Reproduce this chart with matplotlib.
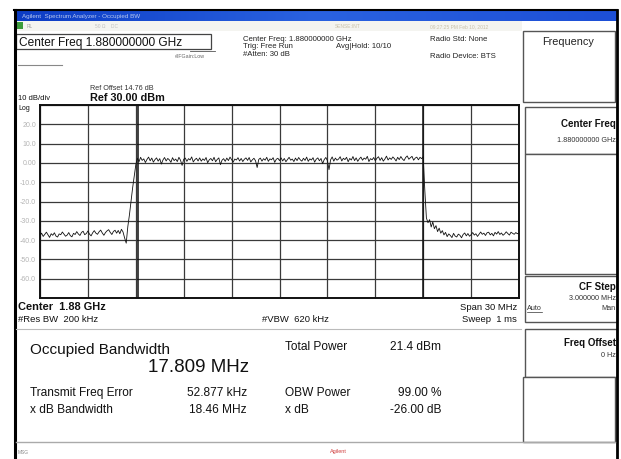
import numpy as np
import matplotlib
matplotlib.use("Agg")
import matplotlib.pyplot as plt
from matplotlib.patches import Rectangle
from matplotlib.lines import Line2D
from matplotlib.colors import LinearSegmentedColormap

plt.rcParams['font.family'] = ['Liberation Sans', 'DejaVu Sans']

# ---------------- data ----------------
center_ghz = 1.88
span_ghz = 0.030
ref_level = 30.0
db_per_div = 10.0
n_points = 301

y_tick_values = [20, 10, 0, -10, -20, -30, -40, -50, -60]
y_tick_labels = ["20.0", "10.0", "0.00", "-10.0", "-20.0", "-30.0", "-40.0", "-50.0", "-60.0"]

noise_left = [
    -37.8, -36.4, -38.1, -37.0, -35.9, -37.3, -38.6, -36.7, -37.5, -36.2,
    -37.9, -38.4, -36.8, -37.2, -35.8, -36.9, -38.0, -37.4, -36.1, -37.7,
    -38.3, -36.5, -37.1, -35.6, -36.8, -37.6, -36.0, -35.4, -37.2, -36.6,
    -35.3, -36.9, -37.8, -36.2, -35.1, -36.4, -37.0, -35.7, -34.8, -36.3,
    -37.5, -36.1, -35.2, -34.6, -36.0, -37.1, -35.5, -34.9, -36.4, -35.0,
    -36.7, -34.4, -35.8, -38.9, -41.6,
]
rising_edge = [-33.0, -27.0, -20.0, -13.0, -7.0, -1.0]
in_band = [
    2.4, 0.6, 2.9, 1.3, 2.1, 0.2, 1.8, 3.0, 1.1, 2.5,
    0.4, 1.7, 2.6, 0.9, 2.2, -0.6, 1.5, 2.8, 1.0, 2.3,
    1.6, 0.3, 2.7, 1.2, 2.0, 0.7, 2.9, 1.4, -1.3, 1.9,
    2.5, 0.8, 2.2, 1.5, 3.1, 0.5, 1.7, 2.4, 1.0, 2.6,
    0.9, 2.1, 1.3, 2.8, 0.1, 1.6, 2.3, 1.1, 2.9, 0.6,
    1.8, 2.6, -0.9, 1.4, 2.2, 0.8, 2.5, 1.2, 3.0, 1.7,
    0.4, 2.0, 1.5, 2.7, 1.0, 2.3, 0.7, 1.9, 2.6, 1.3,
    2.8, 0.5, 1.6, 2.4, 1.1, -2.4, 1.8, 2.5, 0.9, 2.2,
    1.4, 2.9, 0.8, 2.1, 1.6, 2.7, 0.3, 1.9, 2.4, 1.2,
    2.6, 1.0, 2.3, 0.6, 1.8, 2.9, 1.4, 2.0, 0.7, 2.5,
    1.2, 2.8, 1.6, 0.9, 2.4, 1.3, 3.0, 0.8, 2.1, 1.5,
    2.7, 0.4, 1.9, 2.6, 1.1, 2.3, -0.4, 1.7, 2.8, 1.2,
    -3.5, 1.6, 3.1, 0.9, 2.5, 1.4, 2.0, 3.2, 1.0, 2.4,
    1.7, 2.9, 0.6, 2.3, 1.5, 3.3, 1.2, 2.6, 0.8, 2.1,
    3.0, 1.4, 2.5, 1.9, 3.4, 0.7, 2.2, 1.6, 2.8, 1.1,
    2.4, 3.2, 1.3, 2.7, 0.9, 2.0, 3.5, 1.5, 2.6, 1.8,
    3.1, 2.2, 1.0, 2.9, 1.7, 3.3, 2.0, 1.2, 2.8, 3.6,
    1.9, 2.7, 3.4, 1.4, 2.5, 3.0, 1.6, 2.9, 2.2, 3.2,
]
falling_edge = [-14.0, -28.5, -31.0, -29.4, -33.2, -30.6, -34.1, -32.5, -35.6, -33.8]
noise_right = [
    -36.4, -35.1, -37.3, -36.0, -38.2, -36.8, -37.6, -38.7, -36.5, -37.9,
    -38.4, -36.9, -37.5, -38.8, -37.1, -36.3, -37.8, -36.6, -38.0, -37.2,
    -36.1, -37.4, -36.7, -38.1, -36.9, -35.8, -37.0, -36.4, -37.6, -36.2,
    -35.9, -37.3, -36.5, -37.8, -36.0, -36.9, -35.6, -37.1, -36.3, -37.5,
    -36.8, -35.7, -36.6, -37.4, -35.9, -36.5, -37.0, -36.1, -36.7, -36.3,
]
trace_dbm = noise_left + rising_edge + in_band + falling_edge + noise_right

obw_mhz = 17.809
freq_error_khz = 52.877

W, H = 621, 460
fig = plt.figure(figsize=(W / 100, H / 100), dpi=100)
fig.patch.set_facecolor("white")


def fx(x):
    return x / W


def fy(y):
    return 1 - y / H


def rect(x0, y0, x1, y1, **kw):
    r = Rectangle((fx(x0), fy(y1)), (x1 - x0) / W, (y1 - y0) / H,
                  transform=fig.transFigure, **kw)
    fig.add_artist(r)


def line(x0, y0, x1, y1, **kw):
    fig.add_artist(Line2D([fx(x0), fx(x1)], [fy(y0), fy(y1)],
                          transform=fig.transFigure, **kw))


def text(x, y, s, **kw):
    kw.setdefault("va", "center")
    fig.text(fx(x), fy(y), s, **kw)


# ---------------- window chrome ----------------
grad = np.linspace(0, 1, 256).reshape(1, -1)
tb = fig.add_axes([fx(14), fy(22), (617 - 14) / W, 11 / H])
cm = LinearSegmentedColormap.from_list("b", ["#0c3cc4", "#2a62e0", "#1d4fd6"])
tb.imshow(grad, aspect="auto", cmap=cm)
tb.axis("off")
text(22, 16.5, "Agilent  Spectrum Analyzer - Occupied BW", fontsize=4.5, color="#b8c8f0")

rect(16, 22, 522, 32, facecolor="#f4f4f0", edgecolor="none")
rect(17, 23, 23, 30, facecolor="#3c9c3c", edgecolor="none")
text(27, 26.5, "RL", fontsize=3.5, color="#a0a0a0")
text(95, 26.5, "50 Ω    DC", fontsize=3.5, color="#c0c0c0")
text(335, 27, "SENSE:INT", fontsize=3.5, color="#c8c0a8")
text(430, 27, "09:27:25 PM Feb 10, 2012", fontsize=3.5, color="#c8c0a8")

line(15, 11, 15, 460, color="black", lw=2.2)
line(14, 11, 617, 11, color="black", lw=1.5)
line(616.5, 11, 616.5, 460, color="black", lw=2.0)

rect(16, 35, 211, 50, facecolor="white", edgecolor="#444444", lw=0.9)
text(19, 43, "Center Freq 1.880000000 GHz", fontsize=8.6, color="#111111")
text(205, 57, "#IFGain:Low", fontsize=3.8, color="#666666", ha="right")
line(190, 52, 215, 52, color="#555555", lw=0.6)
line(18, 66, 62, 66, color="#888888", lw=0.8)

hdr = dict(fontsize=5.6, color="#222222")
text(243, 40, "Center Freq: 1.880000000 GHz", **hdr)
text(243, 47, "Trig: Free Run", **hdr)
text(243, 54, "#Atten: 30 dB", **hdr)
text(336, 47, "Avg|Hold: 10/10", **hdr)
text(430, 40, "Radio Std: None", **hdr)
text(430, 56, "Radio Device: BTS", **hdr)

text(90, 88, "Ref Offset 14.76 dB", fontsize=5.2, color="#333333")
text(18, 99, "10 dB/div", fontsize=5.5, color="#111111")
text(90, 98, "Ref 30.00 dBm", fontsize=7.8, color="#111111", weight="bold")
text(18, 108.5, "Log", fontsize=5.0, color="#111111")

# ---------------- graticule / trace ----------------
ax = fig.add_axes([fx(40), fy(299), 479 / W, 193 / H])
f_start = center_ghz - span_ghz / 2
f_stop = center_ghz + span_ghz / 2
freqs = np.linspace(f_start, f_stop, n_points)
ax.set_xlim(f_start, f_stop)
ax.set_ylim(ref_level - 10 * db_per_div, ref_level)
ax.set_xticks(np.linspace(f_start, f_stop, 11))
ax.set_yticks(np.arange(ref_level - 10 * db_per_div, ref_level + 1, db_per_div))
ax.grid(True, color="#3a3a3a", lw=0.9)
ax.tick_params(length=0, labelbottom=False, labelleft=False)
for s in ax.spines.values():
    s.set_color("#111111")
    s.set_linewidth(1.4)
ax.plot(freqs, trace_dbm, color="#111111", lw=0.6)
fe = freq_error_khz / 1e6
ax.axvline(center_ghz + fe - obw_mhz / 2000, color="#111111", lw=1.1)
ax.axvline(center_ghz + fe + obw_mhz / 2000, color="#111111", lw=1.1)
for v, lab in zip(y_tick_values, y_tick_labels):
    ax.text(-0.008, v, lab, transform=ax.get_yaxis_transform(), ha="right",
            va="center", fontsize=5.0, color="#b4b4b4")

# ---------------- lower info ----------------
text(18, 307, "Center  1.88 GHz", fontsize=7.9, color="#111111", weight="bold")
text(18, 320, "#Res BW  200 kHz", fontsize=6.8, color="#111111")
text(262, 320, "#VBW  620 kHz", fontsize=6.8, color="#111111")
text(517, 307, "Span 30 MHz", fontsize=6.8, color="#111111", ha="right")
text(517, 320, "Sweep  1 ms", fontsize=6.8, color="#111111", ha="right")

line(16, 330, 521, 330, color="#bbbbbb", lw=0.8)

text(30, 350, "Occupied Bandwidth", fontsize=11, color="#111111")
text(148, 368, f"{obw_mhz:.3f} MHz", fontsize=13.5, color="#111111")
text(285, 347, "Total Power", fontsize=8.6, color="#111111")
text(441, 347, "21.4 dBm", fontsize=8.6, color="#111111", ha="right")
text(30, 393, "Transmit Freq Error", fontsize=8.6, color="#111111")
text(247, 393, f"{freq_error_khz:.3f} kHz", fontsize=8.6, color="#111111", ha="right")
text(285, 393, "OBW Power", fontsize=8.6, color="#111111")
text(441, 393, "99.00 %", fontsize=8.6, color="#111111", ha="right")
text(30, 410, "x dB Bandwidth", fontsize=8.6, color="#111111")
text(247, 410, "18.46 MHz", fontsize=8.6, color="#111111", ha="right")
text(285, 410, "x dB", fontsize=8.6, color="#111111")
text(441, 410, "-26.00 dB", fontsize=8.6, color="#111111", ha="right")

line(16, 443, 615, 443, color="#aaaaaa", lw=1.0)
text(18, 453, "MSG", fontsize=3.5, color="#888888")
text(330, 452, "Agilent", fontsize=4.0, color="#d04040")

# ---------------- softkey panel ----------------
sk = dict(facecolor="white", edgecolor="#555555", lw=1.0)
rect(523, 32, 615, 103, **sk)
text(568, 42, "Frequency", fontsize=7.8, color="#222222", ha="center")
rect(525, 108, 617, 155, **sk)
text(616, 124, "Center Freq", fontsize=7.0, color="#111111", ha="right", weight="bold")
text(616, 140, "1.880000000 GHz", fontsize=5.2, color="#333333", ha="right")
rect(525, 155, 617, 275, **sk)
rect(525, 277, 617, 323, **sk)
text(616, 287, "CF Step", fontsize=7.0, color="#111111", ha="right", weight="bold")
text(616, 298, "3.000000 MHz", fontsize=5.2, color="#333333", ha="right")
text(527, 309, "Auto", fontsize=5.2, color="#333333")
line(527, 313, 542, 313, color="#333333", lw=0.5)
text(616, 309, "Man", fontsize=5.2, color="#333333", ha="right")
rect(525, 330, 617, 378, **sk)
text(616, 343, "Freq Offset", fontsize=7.0, color="#111111", ha="right", weight="bold")
text(616, 356, "0 Hz", fontsize=5.2, color="#333333", ha="right")
rect(523, 378, 615, 443, **sk)

fig.savefig("out.png", dpi=100, facecolor="white")
